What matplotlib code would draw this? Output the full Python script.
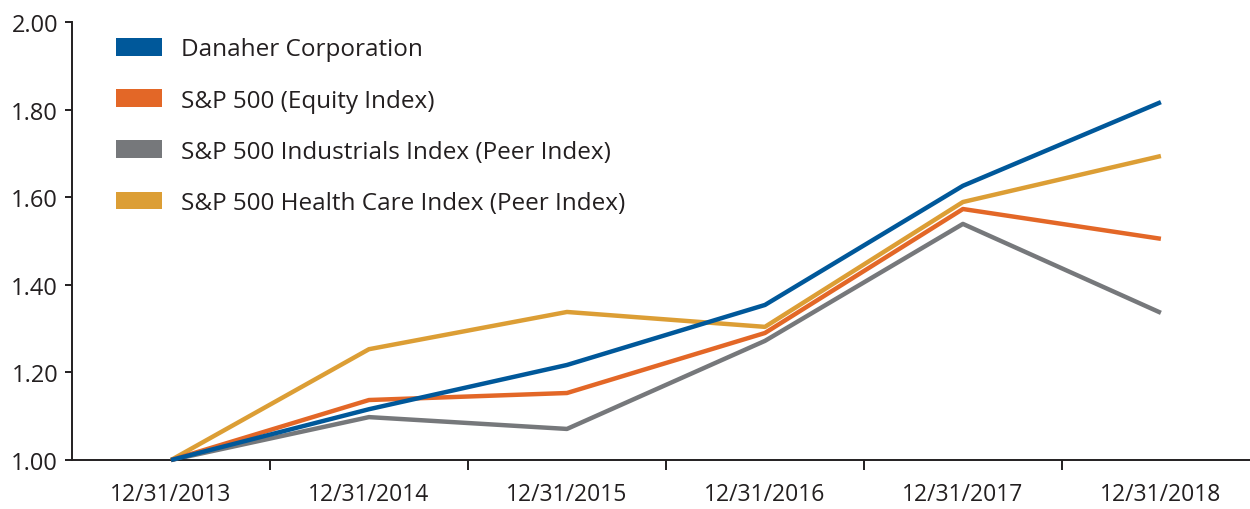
import matplotlib.pyplot as plt
from matplotlib.patches import Patch
from matplotlib.ticker import FixedLocator

# data
dates = ['12/31/2013', '12/31/2014', '12/31/2015', '12/31/2016', '12/31/2017', '12/31/2018']
danaher = [1.00, 1.116, 1.217, 1.354, 1.626, 1.817]
sp500 = [1.00, 1.137, 1.153, 1.290, 1.573, 1.505]
industrials = [1.00, 1.098, 1.071, 1.272, 1.539, 1.336]
health_care = [1.00, 1.253, 1.338, 1.304, 1.589, 1.694]

names = ['Danaher Corporation', 'S&P 500 (Equity Index)',
         'S&P 500 Industrials Index (Peer Index)', 'S&P 500 Health Care Index (Peer Index)']
colors = ['#00589a', '#e36727', '#76787b', '#dc9e35']

plt.rcParams['font.family'] = ['Open Sans', 'DejaVu Sans']
text_color = '#231f20'

fig = plt.figure(figsize=(12.5, 5.1), dpi=100)
ax = fig.add_axes([0.0576, 0.096, 0.9424, 0.859])

x = range(len(dates))
# blue on top, gray at the back
series = [danaher, sp500, industrials, health_care]
for s, c, z in zip(series, colors, [5, 4, 2, 3]):
    ax.plot(x, s, color=c, lw=3.2, zorder=z, clip_on=False, solid_capstyle='butt')

ax.set_xlim(-0.5, 5.45)
ax.set_ylim(1.0, 2.0)
ax.set_yticks([1.0, 1.2, 1.4, 1.6, 1.8, 2.0])
ax.set_yticklabels(['%.2f' % v for v in [1.0, 1.2, 1.4, 1.6, 1.8, 2.0]])
ax.set_xticks(list(x))
ax.set_xticklabels(dates)
ax.xaxis.set_minor_locator(FixedLocator([0.5, 1.5, 2.5, 3.5, 4.5]))

for sp in ['top', 'right']:
    ax.spines[sp].set_visible(False)
for sp in ['left', 'bottom']:
    ax.spines[sp].set_color(text_color)
    ax.spines[sp].set_linewidth(1.4)

ax.tick_params(axis='y', direction='out', length=5, width=1.4, color=text_color,
               labelsize=17, labelcolor=text_color, pad=5)
ax.tick_params(axis='x', which='major', length=0, labelsize=16.5, labelcolor=text_color, pad=16)
ax.tick_params(axis='x', which='minor', direction='out', length=7, width=1.4, color=text_color)

handles = [Patch(facecolor=c, edgecolor='none') for c in colors]
leg = ax.legend(handles, names, loc='upper left', bbox_to_anchor=(0.0374, 0.965),
                frameon=False, fontsize=17.5, handlelength=1.9, handleheight=0.74,
                labelspacing=1.12, handletextpad=0.78, borderaxespad=0, borderpad=0)
for t in leg.get_texts():
    t.set_color(text_color)

fig.savefig('out.png', dpi=100)
